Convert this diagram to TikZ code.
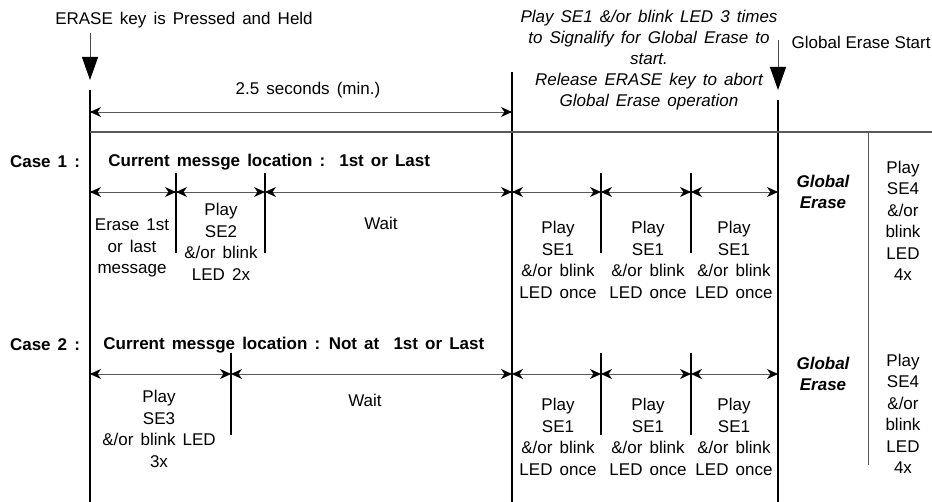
\documentclass[tikz,border=0pt]{standalone}
\usepackage{fontspec}
\setmainfont{Liberation Sans}[WordSpace=1.5]
\usepackage{tikz}
\usetikzlibrary{
  positioning,
  arrows.meta,
  calc
}

\tikzset{
  txt/.style={font=\fontsize{17pt}{21.5pt}\selectfont, align=center, inner sep=0pt},
  head/.style={font=\fontsize{17pt}{21.5pt}\selectfont\bfseries, inner sep=0pt},
  note/.style={font=\fontsize{17pt}{21pt}\selectfont\itshape, align=center, inner sep=0pt},
  dim/.style={draw=gray!70!black, line width=0.9pt,
    {Stealth[black, length=11pt, width=10pt, inset=3.5pt]}-{Stealth[black, length=11pt, width=10pt, inset=3.5pt]}},
  tick/.style={draw=black, line width=1.6pt},
  bar/.style={draw=black, line width=1.8pt},
  press/.style={draw=gray!60!black, line width=1pt, -{Triangle[black, length=23pt, width=16pt]}}
}

\begin{document}
\begin{tikzpicture}[x=1pt, y=-1pt, >=Stealth, thick]
    \useasboundingbox (0,0) rectangle (932,502);
    \def\tA{90}   % key pressed
    \def\tB{512}  % 2.5 s over
    \def\tC{778}  % global erase start
    \def\tD{868}
    \def\yBot{502}

    % key pressed and held
    \node[txt] (held) at (184,20) {ERASE key is Pressed and Held};
    \coordinate (heldtop) at (\tA,33);
    \coordinate (heldtip) at (\tA,80);
    \draw[press] (heldtop) -- (heldtip);

    % signal text and start arrow
    \node[note] (signal) at (649,60) {Play SE1 \&/or blink LED 3 times\\to Signalify for Global Erase to\\start.\\Release ERASE key to abort\\Global Erase operation};
    \node[txt, anchor=east] (start) at (931,42) {\spaceskip=0.278em\relax Global Erase Start};
    \coordinate (starttop) at (\tC,40);
    \coordinate (starttip) at (\tC,90);
    \draw[press] (starttop) -- (starttip);

    % time lines
    \coordinate (a0) at (\tA,90);  \coordinate (a1) at (\tA,\yBot);
    \coordinate (b0) at (\tB,72);  \coordinate (b1) at (\tB,\yBot);
    \coordinate (c0) at (\tC,100); \coordinate (c1) at (\tC,\yBot);
    \coordinate (d0) at (\tD,132); \coordinate (d1) at (\tD,465);
    \draw[bar] (a0) -- (a1);
    \draw[bar] (b0) -- (b1);
    \draw[bar] (c0) -- (c1);
    \draw[gray!70!black, line width=1pt] (d0) -- (d1);
    \coordinate (h0) at (\tA,132); \coordinate (h1) at (932,132);
    \draw[gray!70!black, line width=1.4pt] (h0) -- (h1);

    % 2.5 seconds
    \coordinate (m0) at (\tA,112); \coordinate (m1) at (\tB,112);
    \draw[dim] (m0) -- (m1);
    \node[txt] (min) at (308,90) {2.5 seconds (min.)};

    % case 1
    \node[head] (case1) at (45,162) {Case 1 :};
    \node[head, anchor=west] (loc1) at (108,162) {Current messge location :\ \ 1st or Last};
    \foreach \x [count=\k] in {176,265,601,691} {
      \coordinate (k1t\k) at (\x,173); \coordinate (k1b\k) at (\x,253);
      \draw[tick] (k1t\k) -- (k1b\k);
    }
    \foreach \a/\b [count=\i] in {\tA/176, 176/265, 265/\tB, \tB/601, 601/691, 691/\tC} {
      \coordinate (r1s\i) at (\a,192); \coordinate (r1e\i) at (\b,192);
      \draw[dim] (r1s\i) -- (r1e\i);
    }
    \node[txt] (erase1) at (132,248) {Erase 1st\\or last\\message};
    \node[txt] (se2) at (221,242) {Play\\SE2\\\&/or blink\\LED 2x};
    \node[txt] (wait1) at (381,223) {Wait};
    \foreach \x [count=\k] in {558,648,734}
      \node[txt] (se1a\k) at (\x,260) {Play\\SE1\\\&/or blink\\LED once};
    \node[txt, font=\fontsize{17pt}{21pt}\selectfont\bfseries\itshape] (ge1) at (823,192) {Global\\Erase};
    \node[txt] (se4a) at (903,221) {Play\\SE4\\\&/or\\blink\\LED\\4x};

    % case 2
    \node[head] (case2) at (45,345) {Case 2 :};
    \node[head, anchor=west] (loc2) at (103,345) {Current messge location : Not at\ \ 1st or Last};
    \foreach \x [count=\k] in {231,601,691} {
      \coordinate (k2t\k) at (\x,353); \coordinate (k2b\k) at (\x,435);
      \draw[tick] (k2t\k) -- (k2b\k);
    }
    \foreach \a/\b [count=\i] in {\tA/231, 231/\tB, \tB/601, 601/691, 691/\tC} {
      \coordinate (r2s\i) at (\a,374); \coordinate (r2e\i) at (\b,374);
      \draw[dim] (r2s\i) -- (r2e\i);
    }
    \node[txt] (se3) at (159,429) {Play\\SE3\\\&/or blink LED\\3x};
    \node[txt] (wait2) at (365,400) {Wait};
    \foreach \x [count=\k] in {558,648,734}
      \node[txt] (se1b\k) at (\x,437) {Play\\SE1\\\&/or blink\\LED once};
    \node[txt, font=\fontsize{17pt}{21pt}\selectfont\bfseries\itshape] (ge2) at (823,374) {Global\\Erase};
    \node[txt] (se4b) at (903,414) {Play\\SE4\\\&/or\\blink\\LED\\4x};
\end{tikzpicture}
\end{document}
